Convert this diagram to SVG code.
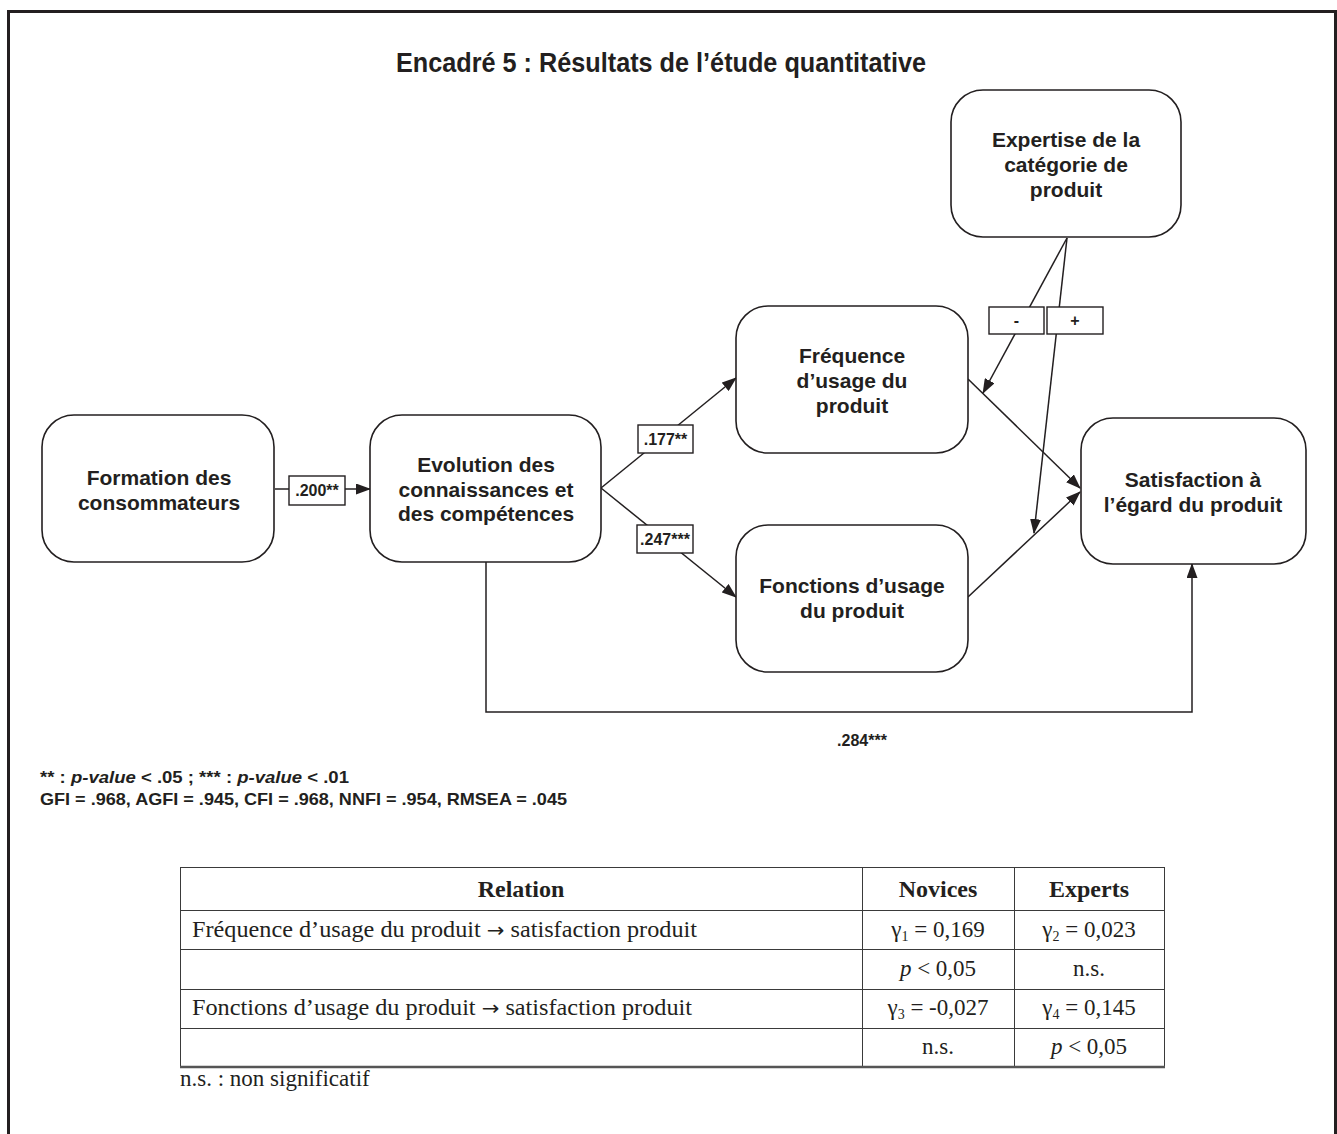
<svg xmlns="http://www.w3.org/2000/svg" width="1337" height="1134" viewBox="0 0 1337 1134">
<style>
.frame{fill:none;stroke:#231f20;stroke-width:3}
.node rect{fill:#fff;stroke:#231f20;stroke-width:1.6}
.nt{font-family:"Liberation Sans",Arial,sans-serif;font-weight:bold;font-size:21px;fill:#231f20;text-anchor:middle}
.conn{fill:none;stroke:#231f20;stroke-width:1.5}
.lbl rect{fill:#fff;stroke:#231f20;stroke-width:1.4}
.lt{font-family:"Liberation Sans",Arial,sans-serif;font-weight:bold;font-size:16px;fill:#231f20;text-anchor:middle}
.fn{font-family:"Liberation Sans",Arial,sans-serif;font-weight:bold;font-size:17px;fill:#231f20}
.tb{fill:none;stroke:#3a3a3a;stroke-width:1}
.tt{font-family:"Liberation Serif","Times New Roman",serif;font-size:23px;fill:#231f20}
.th{font-family:"Liberation Serif","Times New Roman",serif;font-size:24px;font-weight:bold;fill:#231f20;text-anchor:middle}
.c{text-anchor:middle}
</style>
<defs>
<marker id="ah" markerUnits="userSpaceOnUse" markerWidth="15" markerHeight="11" refX="14" refY="5.5" orient="auto">
<path d="M0,0 L15,5.5 L0,11 z" fill="#231f20"/>
</marker>
</defs>
<rect width="1337" height="1134" fill="#fff"/>
<path class="frame" d="M8.5,1134 V11.5 H1335.5 V1134"/>
<text x="661" y="72" font-family="'Liberation Sans',Arial,sans-serif" font-weight="bold" font-size="27" fill="#231f20" text-anchor="middle" textLength="530" lengthAdjust="spacingAndGlyphs">Encadré 5 : Résultats de l’étude quantitative</text>

<g id="connectors">
<line class="conn" x1="275" y1="489" x2="289" y2="489"/>
<line class="conn" x1="345" y1="489" x2="370" y2="489" marker-end="url(#ah)"/>
<line class="conn" x1="601" y1="488" x2="736" y2="378" marker-end="url(#ah)"/>
<line class="conn" x1="601" y1="488" x2="736" y2="597" marker-end="url(#ah)"/>
<line class="conn" x1="968" y1="379" x2="1080" y2="488" marker-end="url(#ah)"/>
<line class="conn" x1="968" y1="597" x2="1080" y2="492" marker-end="url(#ah)"/>
<line class="conn" x1="1067" y1="238" x2="983" y2="393" marker-end="url(#ah)"/>
<line class="conn" x1="1067" y1="238" x2="1034" y2="533" marker-end="url(#ah)"/>
<path class="conn" d="M486,562 V712 H1192 V564" marker-end="url(#ah)"/>
</g>

<g id="label-200" class="lbl"><rect x="289" y="476" width="56" height="29"/><text class="lt" x="317" y="496">.200**</text></g>
<g id="label-177" class="lbl"><rect x="638" y="425" width="55" height="28"/><text class="lt" x="665.5" y="445">.177**</text></g>
<g id="label-247" class="lbl"><rect x="637" y="525" width="56" height="28"/><text class="lt" x="665" y="545">.247***</text></g>
<g id="label-minus" class="lbl"><rect x="989" y="307" width="55" height="27"/><text class="lt" x="1016.5" y="326">-</text></g>
<g id="label-plus" class="lbl"><rect x="1047" y="307" width="56" height="27"/><text class="lt" x="1075" y="326">+</text></g>
<text id="label-284" class="lt" x="862" y="746" font-size="14">.284***</text>

<g id="n-formation" class="node"><rect x="42" y="415" width="232" height="147" rx="32"/>
<text class="nt" x="159" y="485">Formation des</text><text class="nt" x="159" y="510">consommateurs</text></g>
<g id="n-evolution" class="node"><rect x="370" y="415" width="231" height="147" rx="32"/>
<text class="nt" x="486" y="472">Evolution des</text><text class="nt" x="486" y="497">connaissances et</text><text class="nt" x="486" y="521">des compétences</text></g>
<g id="n-frequence" class="node"><rect x="736" y="306" width="232" height="147" rx="32"/>
<text class="nt" x="852" y="363">Fréquence</text><text class="nt" x="852" y="388">d’usage du</text><text class="nt" x="852" y="413">produit</text></g>
<g id="n-fonctions" class="node"><rect x="736" y="525" width="232" height="147" rx="32"/>
<text class="nt" x="852" y="593">Fonctions d’usage</text><text class="nt" x="852" y="618">du produit</text></g>
<g id="n-satisfaction" class="node"><rect x="1081" y="418" width="225" height="146" rx="32"/>
<text class="nt" x="1193" y="487">Satisfaction à</text><text class="nt" x="1193" y="512">l’égard du produit</text></g>
<g id="n-expertise" class="node"><rect x="951" y="90" width="230" height="147" rx="32"/>
<text class="nt" x="1066" y="147">Expertise de la</text><text class="nt" x="1066" y="172">catégorie de</text><text class="nt" x="1066" y="197">produit</text></g>

<g id="footnote">
<text class="fn" x="40" y="783" textLength="309" lengthAdjust="spacingAndGlyphs">** : <tspan font-style="italic">p-value</tspan> &lt; .05 ; *** : <tspan font-style="italic">p-value</tspan> &lt; .01</text>
<text class="fn" x="40" y="805" textLength="527" lengthAdjust="spacingAndGlyphs">GFI = .968, AGFI = .945, CFI = .968, NNFI = .954, RMSEA = .045</text>
</g>

<g id="table">
<rect class="tb" x="180.5" y="867.5" width="984" height="200"/>
<line class="tb" x1="180" y1="910.5" x2="1164" y2="910.5"/>
<line class="tb" x1="180" y1="949.5" x2="1164" y2="949.5"/>
<line class="tb" x1="180" y1="989.5" x2="1164" y2="989.5"/>
<line class="tb" x1="180" y1="1028.5" x2="1164" y2="1028.5"/>
<line class="tb" x1="862.5" y1="867" x2="862.5" y2="1067"/>
<line class="tb" x1="1014.5" y1="867" x2="1014.5" y2="1067"/>
<line x1="180" y1="1067" x2="1165" y2="1067" stroke="#555" stroke-width="2.5"/>
<text class="th" x="521" y="897">Relation</text>
<text class="th" x="938" y="897">Novices</text>
<text class="th" x="1089" y="897">Experts</text>
<text class="tt" x="192" y="937" textLength="505" lengthAdjust="spacingAndGlyphs">Fréquence d’usage du produit <tspan font-family="'DejaVu Sans',sans-serif" font-size="20">→</tspan> satisfaction produit</text>
<text class="tt c" x="938" y="937">γ<tspan font-size="14" dy="4">1</tspan><tspan dy="-4"> = 0,169</tspan></text>
<text class="tt c" x="1089" y="937">γ<tspan font-size="14" dy="4">2</tspan><tspan dy="-4"> = 0,023</tspan></text>
<text class="tt c" x="938" y="976"><tspan font-style="italic">p</tspan> &lt; 0,05</text>
<text class="tt c" x="1089" y="976">n.s.</text>
<text class="tt" x="192" y="1015" textLength="500" lengthAdjust="spacingAndGlyphs">Fonctions d’usage du produit <tspan font-family="'DejaVu Sans',sans-serif" font-size="20">→</tspan> satisfaction produit</text>
<text class="tt c" x="938" y="1015">γ<tspan font-size="14" dy="4">3</tspan><tspan dy="-4"> = -0,027</tspan></text>
<text class="tt c" x="1089" y="1015">γ<tspan font-size="14" dy="4">4</tspan><tspan dy="-4"> = 0,145</tspan></text>
<text class="tt c" x="938" y="1054">n.s.</text>
<text class="tt c" x="1089" y="1054"><tspan font-style="italic">p</tspan> &lt; 0,05</text>
<text class="tt" x="180" y="1086">n.s. : non significatif</text>
</g>
</svg>
